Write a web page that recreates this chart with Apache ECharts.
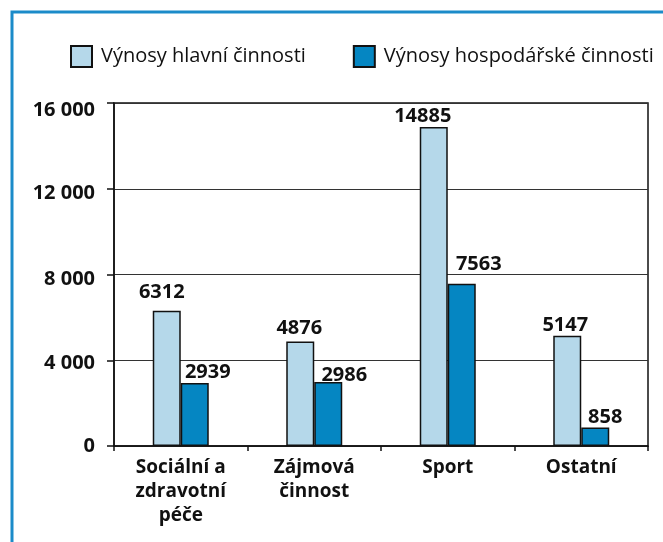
<!DOCTYPE html>
<html>
<head>
<meta charset="utf-8">
<script src="https://cdn.jsdelivr.net/npm/echarts@6/dist/echarts.min.js"></script>
<style>
  html, body { margin: 0; padding: 0; background: #fff; }
  #chart { width: 663px; height: 542px; }
</style>
</head>
<body>
<div id="chart"></div>
<script>
// kategorie a hodnoty (tis. Kč)
const categories = ['Sociální a\nzdravotní\npéče', 'Zájmová\nčinnost', 'Sport', 'Ostatní']
const hlavni = [6312, 4876, 14885, 5147]
const hospodarske = [2939, 2986, 7563, 858]
const seriesNames = ['Výnosy hlavní činnosti', 'Výnosy hospodářské činnosti']
const yTicks = [0, 4000, 8000, 12000, 16000]

// posun popisků nad sloupci [dx, dy] tak jak jsou v originále
const shiftHlavni = [[-5, -8], [-1, -3], [-11, -1], [-2, 0]]
const shiftHosp = [[13, -1], [16, 3], [17, -10], [10, 0]]

const font = '"Open Sans", "DejaVu Sans", sans-serif'
const fmt = v => String(v).replace(/\B(?=(\d{3})+(?!\d))/g, ' ')

// popisky osy y sedí v originále mírně pod čarou
const yShift = [0, 3, 5, 5, 7]
const yRich = {}
yShift.forEach((d, i) => {
  yRich['t' + i] = {
    fontFamily: font, fontWeight: 'bold', fontSize: 20, color: '#111',
    padding: [d * 2, 0, 0, 0]
  }
})

const withShift = (values, shifts) => values.map((v, i) => ({
  value: v,
  label: { offset: shifts[i] }
}))

const chart = echarts.init(document.getElementById('chart'))

const barLabel = {
  show: true,
  position: 'top',
  distance: 0,
  color: '#111',
  fontFamily: font,
  fontWeight: 'bold',
  fontSize: 20
}

chart.setOption({
  animation: false,
  graphic: [{
    type: 'rect',
    shape: { x: 12, y: 12, width: 700, height: 600 },
    style: { fill: 'none', stroke: '#1b8bc9', lineWidth: 3 },
    silent: true
  }],
  legend: {
    left: 70,
    top: 45,
    itemGap: 47,
    itemWidth: 21,
    itemHeight: 21,
    icon: 'rect',
    padding: 0,
    textStyle: { fontFamily: font, fontSize: 20, color: '#111', padding: [0, 0, 0, 4] },
    data: seriesNames
  },
  grid: {
    left: 114,
    right: 15,
    top: 103,
    bottom: 96,
    show: true,
    borderColor: '#111',
    borderWidth: 1.5,
    containLabel: false
  },
  xAxis: {
    type: 'category',
    data: categories,
    axisLine: { lineStyle: { color: '#111', width: 1.5 } },
    axisTick: { show: true, length: 5, lineStyle: { color: '#111', width: 1.5 } },
    axisLabel: {
      margin: 10,
      color: '#111',
      fontFamily: font,
      fontWeight: 'bold',
      fontSize: 19,
      lineHeight: 24,
      interval: 0
    }
  },
  yAxis: {
    type: 'value',
    min: yTicks[0],
    max: yTicks[yTicks.length - 1],
    interval: 4000,
    axisLine: { show: true, lineStyle: { color: '#111', width: 1.5 } },
    axisTick: { show: true, length: 7, lineStyle: { color: '#111', width: 1.5 } },
    splitLine: { lineStyle: { color: '#333', width: 1.2 } },
    axisLabel: {
      margin: 19,
      formatter: v => '{t' + yTicks.indexOf(v) + '|' + fmt(v) + '}',
      rich: yRich
    }
  },
  series: [{
    name: seriesNames[0],
    type: 'bar',
    data: withShift(hlavni, shiftHlavni),
    barWidth: 28,
    barGap: '0%',
    itemStyle: { color: '#b5d8ea', borderColor: '#111', borderWidth: 1.5 },
    label: barLabel
  }, {
    name: seriesNames[1],
    type: 'bar',
    data: withShift(hospodarske, shiftHosp),
    barWidth: 28,
    itemStyle: { color: '#0586c2', borderColor: '#111', borderWidth: 1.5 },
    label: barLabel
  }]
})
</script>
</body>
</html>
